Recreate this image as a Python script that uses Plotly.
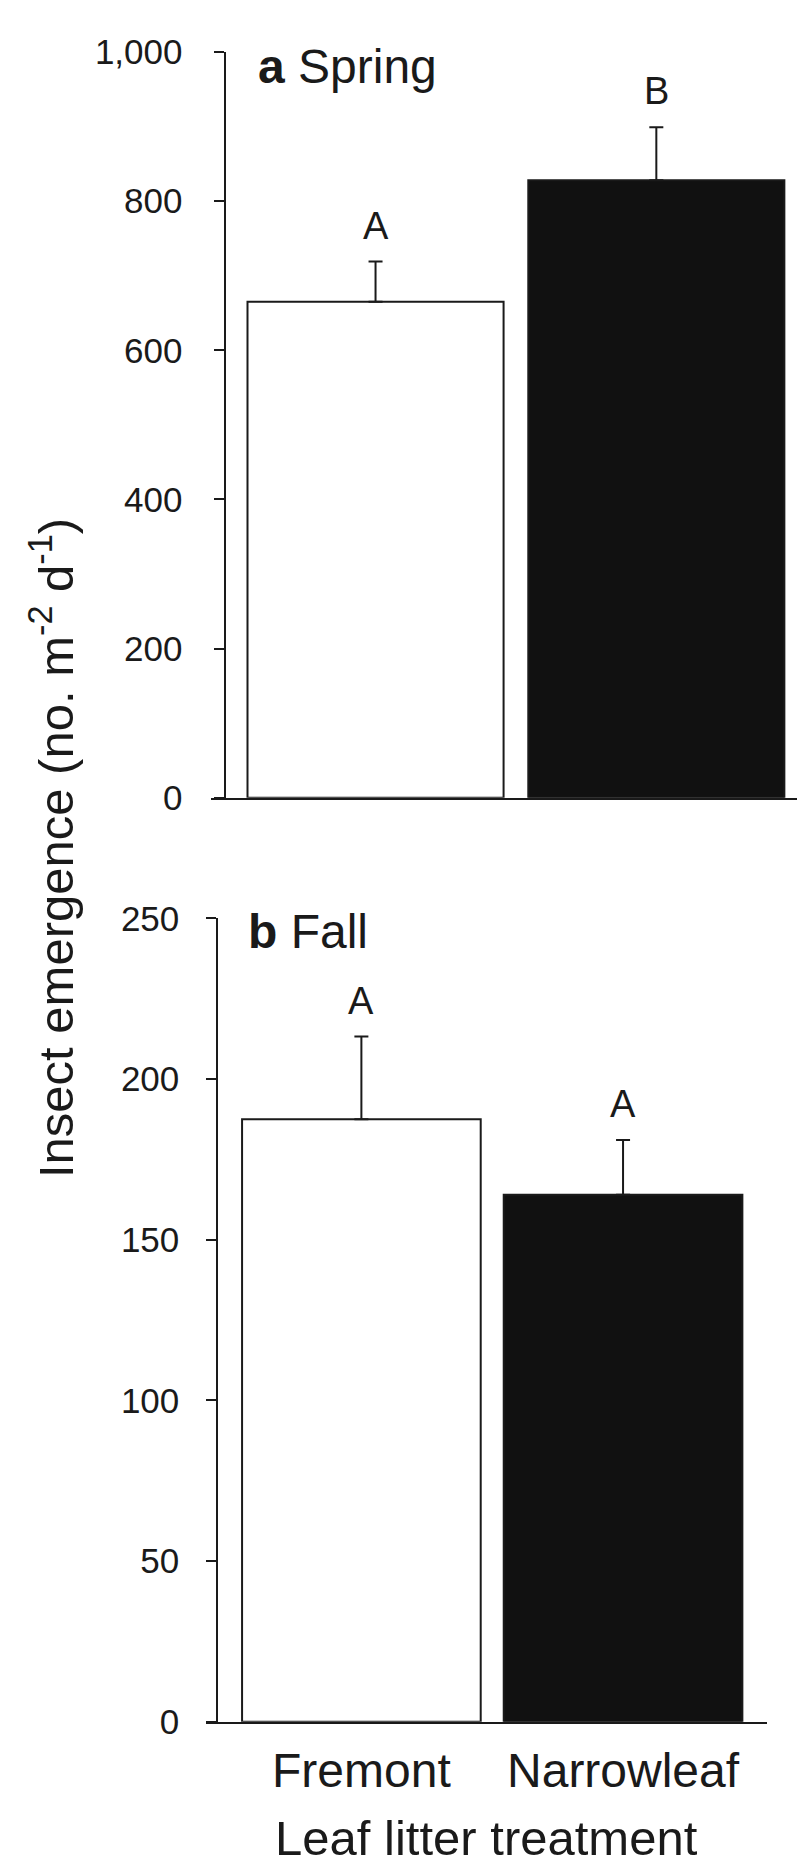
import plotly.graph_objects as go

# ---- data ----
categories = ["Fremont", "Narrowleaf"]
spring_mean = [665, 828]
spring_se = [54, 71]
fall_mean = [187.5, 164]
fall_se = [25.7, 17]
spring_letters = ["A", "B"]
fall_letters = ["A", "A"]
spring_ticks = [0, 200, 400, 600, 800, 1000]
fall_ticks = [0, 50, 100, 150, 200, 250]
bar_colors = ["#ffffff", "#111111"]

W, H = 797, 1865
FONT = "Liberation Sans, Arial, Helvetica, sans-serif"
INK = "#1a1a1a"

def px_x(p):
    return p / W

def px_y(p):
    return (H - p) / H

fig = go.Figure()

for mean, se, xa, ya in [(spring_mean, spring_se, "x", "y"), (fall_mean, fall_se, "x2", "y2")]:
    fig.add_trace(go.Bar(
        x=categories, y=mean, xaxis=xa, yaxis=ya,
        width=0.912,
        marker=dict(color=bar_colors, line=dict(color=INK, width=2)),
        error_y=dict(type="data", array=se, arrayminus=[0, 0], symmetric=False,
                     width=7, thickness=2, color=INK),
        showlegend=False, hoverinfo="skip",
    ))

common_x = dict(showline=True, linecolor=INK, linewidth=2, ticks="", showgrid=False,
                zeroline=False, type="category", automargin=False)
common_y = dict(showline=True, linecolor=INK, linewidth=2, ticks="outside", ticklen=10,
                tickwidth=2, tickcolor=INK, showgrid=False, zeroline=False,
                anchor="free", automargin=False,
                tickfont=dict(family=FONT, size=35, color=INK))

fig.update_layout(
    width=W, height=H,
    margin=dict(l=0, r=0, t=0, b=0),
    paper_bgcolor="white", plot_bgcolor="rgba(0,0,0,0)",
    xaxis=dict(common_x, domain=[px_x(211), 1.0], anchor="y",
               range=[-0.586, 1.501], showticklabels=False),
    yaxis=dict(common_y, domain=[px_y(797.8), px_y(52)], position=px_x(224.5),
               range=[0, 1000], tickvals=spring_ticks, tickformat=",d",
               ticklabelstandoff=24),
    xaxis2=dict(common_x, domain=[px_x(205.7), px_x(766.7)], anchor="y2",
                range=[-0.595, 1.549], showticklabels=True,
                tickfont=dict(family=FONT, size=48, color=INK),
                ticklabelstandoff=6,
                title=dict(text="Leaf litter treatment",
                           font=dict(family=FONT, size=49, color=INK), standoff=30)),
    yaxis2=dict(common_y, domain=[px_y(1721.7), px_y(918.3)], position=px_x(217.3),
                range=[0, 250], tickvals=fall_ticks, ticklabelstandoff=20),
)

annotations = []
for letters, mean, se, xa, ya in [(spring_letters, spring_mean, spring_se, "x", "y"),
                                  (fall_letters, fall_mean, fall_se, "x2", "y2")]:
    for c, l, m, s in zip(categories, letters, mean, se):
        annotations.append(dict(x=c, y=m + s, xref=xa, yref=ya, text=l, showarrow=False,
                                xanchor="center", yanchor="middle", yshift=36,
                                font=dict(family=FONT, size=38, color=INK)))

annotations.append(dict(x=px_x(256), y=px_y(66), xref="paper", yref="paper",
                        text="<b>a</b> Spring", showarrow=False, xanchor="left",
                        yanchor="middle", font=dict(family=FONT, size=48, color=INK)))
annotations.append(dict(x=px_x(246), y=px_y(932), xref="paper", yref="paper",
                        text="<b>b</b> Fall", showarrow=False, xanchor="left",
                        yanchor="middle", font=dict(family=FONT, size=48, color=INK)))
annotations.append(dict(x=px_x(52), y=px_y(848), xref="paper", yref="paper",
                        text="Insect emergence (no. m<sup>-2</sup> d<sup>-1</sup>)",
                        textangle=-90, showarrow=False, xanchor="center", yanchor="middle",
                        font=dict(family=FONT, size=49, color=INK)))
fig.update_layout(annotations=annotations)

fig.write_html("out.html")
